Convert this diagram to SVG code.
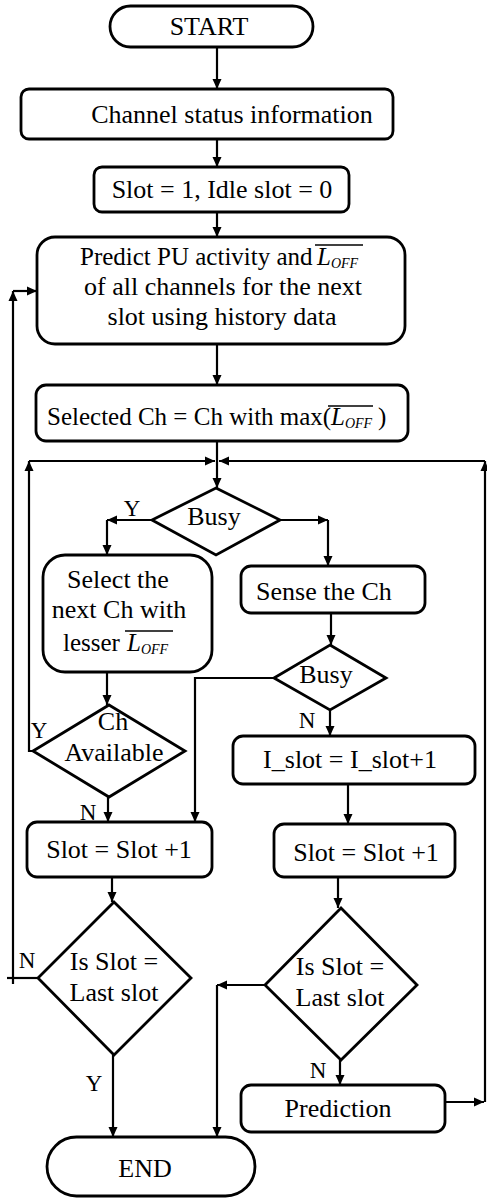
<svg xmlns="http://www.w3.org/2000/svg" width="487" height="1199" viewBox="0 0 487 1199">
<style>
.box{fill:#fff;stroke:#000;stroke-width:2.8}
.c{fill:none;stroke:#000;stroke-width:2.2}
text{font-family:"Liberation Serif","Times New Roman",serif;font-size:26px;fill:#000}
.f{font-size:25px}
.m{text-anchor:middle}
.lbl{font-size:23px}
.it{font-style:italic}
.sub{font-size:14px;font-style:italic}
.ov{stroke:#000;stroke-width:1.6}
</style>
<defs>
<marker id="ah" viewBox="0 0 10 10" refX="10" refY="5" markerWidth="10" markerHeight="10" markerUnits="userSpaceOnUse" orient="auto"><path d="M0,0.5 L10,5 L0,9.5 z" fill="#000"/></marker>
</defs>
<g id="connectors">
<line class="c" x1="217" y1="47" x2="217" y2="89" marker-end="url(#ah)"/>
<line class="c" x1="217" y1="139" x2="217" y2="167" marker-end="url(#ah)"/>
<line class="c" x1="217" y1="212" x2="217" y2="237" marker-end="url(#ah)"/>
<line class="c" x1="217" y1="344" x2="217" y2="385" marker-end="url(#ah)"/>
<line class="c" x1="217" y1="441" x2="217" y2="488" marker-end="url(#ah)"/>
<line class="c" x1="152" y1="520" x2="107" y2="520" marker-end="url(#ah)"/>
<line class="c" x1="107" y1="520" x2="107" y2="555" marker-end="url(#ah)"/>
<line class="c" x1="280" y1="520" x2="328" y2="520" marker-end="url(#ah)"/>
<line class="c" x1="328" y1="520" x2="328" y2="566" marker-end="url(#ah)"/>
<line class="c" x1="331" y1="613" x2="331" y2="645" marker-end="url(#ah)"/>
<polyline class="c" points="274,678 195,678 195,822" marker-end="url(#ah)"/>
<line class="c" x1="330" y1="710" x2="330" y2="736" marker-end="url(#ah)"/>
<line class="c" x1="348" y1="784" x2="348" y2="824" marker-end="url(#ah)"/>
<line class="c" x1="107" y1="672" x2="107" y2="705" marker-end="url(#ah)"/>
<polyline class="c" points="33,751 29,751 29,461" marker-end="url(#ah)"/>
<line class="c" x1="29" y1="461" x2="215" y2="461" marker-end="url(#ah)"/>
<line class="c" x1="108" y1="797" x2="108" y2="822" marker-end="url(#ah)"/>
<line class="c" x1="112" y1="877" x2="112" y2="902" marker-end="url(#ah)"/>
<line class="c" x1="38" y1="978" x2="7" y2="978"/>
<line class="c" x1="13" y1="984" x2="13" y2="291" marker-end="url(#ah)"/>
<line class="c" x1="13" y1="291" x2="37" y2="291" marker-end="url(#ah)"/>
<line class="c" x1="113" y1="1055" x2="113" y2="1137" marker-end="url(#ah)"/>
<line class="c" x1="338" y1="877" x2="338" y2="908" marker-end="url(#ah)"/>
<line class="c" x1="265" y1="985" x2="217" y2="985" marker-end="url(#ah)"/>
<line class="c" x1="217" y1="985" x2="217" y2="1137" marker-end="url(#ah)"/>
<line class="c" x1="340" y1="1060" x2="340" y2="1085" marker-end="url(#ah)"/>
<line class="c" x1="445" y1="1102" x2="484" y2="1102" marker-end="url(#ah)"/>
<line class="c" x1="485" y1="1102" x2="485" y2="461" marker-end="url(#ah)"/>
<line class="c" x1="485" y1="461" x2="219" y2="461" marker-end="url(#ah)"/>
</g>
<g id="start">
<rect class="box" x="110" y="6" width="203" height="41" rx="20.5"/>
<text class="m" x="209" y="35">START</text>
</g>
<g id="channel-status">
<rect class="box" x="21" y="89" width="372" height="50" rx="8"/>
<text class="m" x="232" y="123">Channel status information</text>
</g>
<g id="init">
<rect class="box" x="94" y="167" width="255" height="45" rx="8"/>
<text class="m" x="222" y="198">Slot = 1, Idle slot = 0</text>
</g>
<g id="predict">
<rect class="box" x="37" y="237" width="368" height="107" rx="18"/>
<text class="f" x="80" y="265">Predict PU activity and</text>
<text class="f" x="317" y="265"><tspan class="it">L</tspan><tspan class="sub" dy="3">OFF</tspan></text>
<line class="ov" x1="315" y1="245" x2="363" y2="245"/>
<text class="m" x="223" y="295">of all channels for the next</text>
<text class="m" x="222" y="325">slot using history data</text>
</g>
<g id="select-max">
<rect class="box" x="36" y="385" width="372" height="56" rx="10"/>
<text class="f" x="47" y="425">Selected Ch = Ch with max(</text>
<text class="f" x="331" y="425"><tspan class="it">L</tspan><tspan class="sub" dy="3">OFF</tspan></text>
<text class="f" x="378" y="425">)</text>
<line class="ov" x1="328" y1="406" x2="373" y2="406"/>
</g>
<g id="busy1">
<polygon class="box" points="216,488 280,520 216,555 152,520"/>
<text class="m" x="214" y="525">Busy</text>
<text class="lbl m" x="132" y="516">Y</text>
</g>
<g id="select-next">
<rect class="box" x="43" y="555" width="169" height="117" rx="22"/>
<text class="m" x="118" y="588">Select the</text>
<text class="m" x="119" y="618">next Ch with</text>
<text class="f" x="63" y="651">lesser</text>
<text class="f" x="127" y="651"><tspan class="it">L</tspan><tspan class="sub" dy="3">OFF</tspan></text>
<line class="ov" x1="125" y1="631" x2="173" y2="631"/>
</g>
<g id="sense">
<rect class="box" x="241" y="566" width="184" height="47" rx="10"/>
<text class="m" x="324" y="600">Sense the Ch</text>
</g>
<g id="busy2">
<polygon class="box" points="330,645 386,678 330,710 274,678"/>
<text class="m" x="326" y="683">Busy</text>
<text class="lbl m" x="307" y="728">N</text>
</g>
<g id="ch-available">
<polygon class="box" points="109,705 185,751 109,797 33,751"/>
<text class="m" x="113" y="730">Ch</text>
<text class="m" x="114" y="761">Available</text>
<text class="lbl m" x="39" y="738">Y</text>
<text class="lbl m" x="88" y="820">N</text>
</g>
<g id="islot">
<rect class="box" x="233" y="736" width="242" height="48" rx="10"/>
<text class="m" x="350" y="768">I_slot = I_slot+1</text>
</g>
<g id="slot-left">
<rect class="box" x="27" y="822" width="185" height="55" rx="10"/>
<text class="m" x="119" y="858">Slot = Slot +1</text>
</g>
<g id="slot-right">
<rect class="box" x="274" y="824" width="181" height="53" rx="10"/>
<text class="m" x="366" y="861">Slot = Slot +1</text>
</g>
<g id="last-left">
<polygon class="box" points="114,902 191,978 114,1055 38,978"/>
<text class="m" x="114" y="970">Is Slot =</text>
<text class="m" x="114" y="1001">Last slot</text>
<text class="lbl m" x="27" y="968">N</text>
<text class="lbl m" x="94" y="1091">Y</text>
</g>
<g id="last-right">
<polygon class="box" points="341,908 417,985 341,1060 265,985"/>
<text class="m" x="340" y="975">Is Slot =</text>
<text class="m" x="340" y="1006">Last slot</text>
<text class="lbl m" x="318" y="1078">N</text>
</g>
<g id="prediction">
<rect class="box" x="241" y="1085" width="204" height="47" rx="10"/>
<text class="m" x="338" y="1117">Prediction</text>
</g>
<g id="end">
<rect class="box" x="47" y="1137" width="208" height="59" rx="29.5"/>
<text class="m" x="145" y="1177">END</text>
</g>
</svg>
